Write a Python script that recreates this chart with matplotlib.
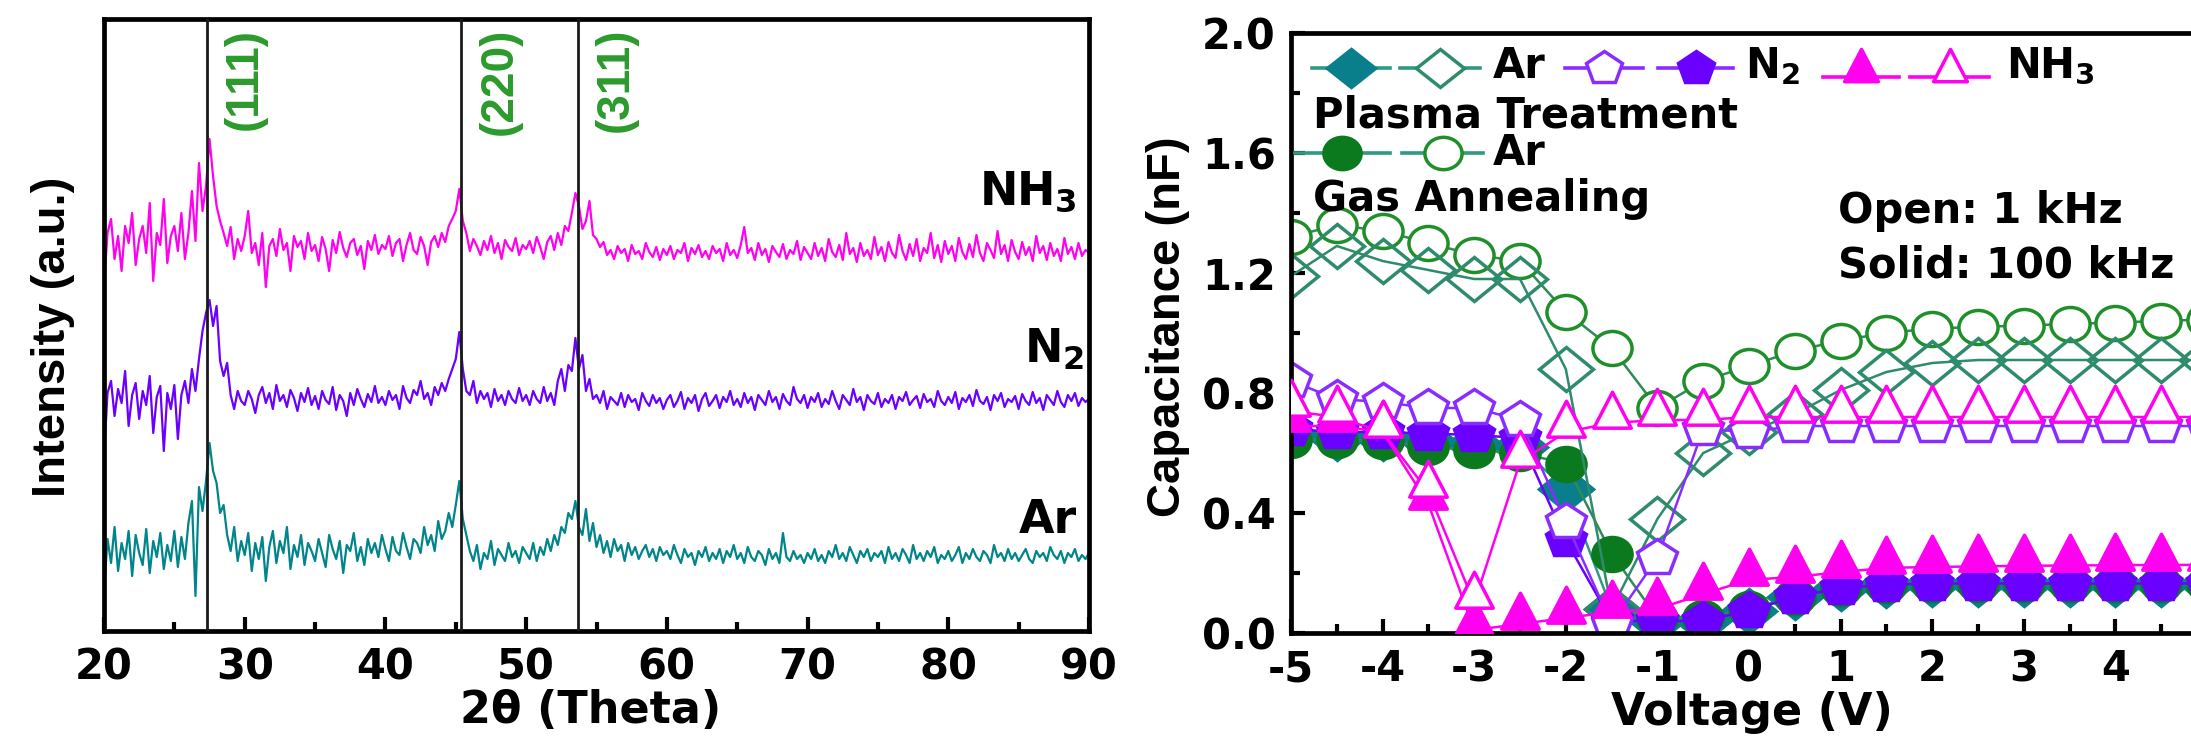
import numpy as np
import matplotlib
matplotlib.use('Agg')
import matplotlib.pyplot as plt
from matplotlib.markers import MarkerStyle
from matplotlib.path import Path
from matplotlib.transforms import Affine2D
from matplotlib.ticker import MultipleLocator, FormatStrFormatter, FixedLocator

plt.rcParams['font.family'] = ['DejaVu Sans']
plt.rcParams['font.weight'] = 'bold'
plt.rcParams['axes.labelweight'] = 'bold'
plt.rcParams['axes.unicode_minus'] = False
plt.rcParams['mathtext.fontset'] = 'dejavusans'
plt.rcParams['mathtext.default'] = 'bf'

# ---------------- XRD data (arbitrary units, stacked), 0.25 deg steps 20..90 ----------------
xrd_nh3 = (
    [345, 398, 412, 372, 395, 360, 405, 388, 418, 366, 392, 405, 378, 428, 350, 398, 386, 432, 368, 395] +
    [405, 380, 418, 372, 398, 440, 390, 468, 420, 445, 492, 455, 425, 410, 398, 385, 404, 372, 392, 380] +
    [395, 420, 378, 388, 366, 398, 344, 385, 392, 375, 402, 381, 388, 360, 395, 384, 390, 372, 398, 380] +
    [386, 370, 394, 382, 360, 391, 378, 399, 383, 374, 388, 392, 376, 385, 362, 390, 381, 396, 377, 386] +
    [382, 395, 375, 388, 392, 370, 386, 398, 381, 377, 394, 385, 366, 389, 395, 384, 398, 389, 405, 412] +
    [420, 442, 410, 398, 380, 392, 385, 376, 390, 381, 395, 378, 388, 372, 391, 384, 380, 393, 376, 386] +
    [382, 390, 378, 394, 384, 372, 389, 395, 381, 398, 386, 405, 400, 418, 438, 425, 402, 410, 430, 396] +
    [392, 384, 389, 376, 381, 372, 385, 378, 382, 370, 386, 377, 380, 372, 388, 379, 374, 384, 371, 382] +
    [376, 385, 372, 381, 378, 388, 370, 383, 377, 386, 374, 380, 372, 385, 378, 382, 370, 388, 376, 381] +
    [373, 386, 404, 378, 383, 371, 388, 376, 382, 369, 385, 379, 374, 387, 372, 381, 377, 390, 371, 384] +
    [378, 372, 388, 375, 383, 370, 392, 379, 374, 386, 371, 398, 377, 383, 369, 388, 375, 381, 372, 394] +
    [376, 384, 370, 389, 378, 373, 396, 380, 371, 387, 375, 392, 370, 383, 378, 398, 373, 386, 369, 390] +
    [377, 385, 370, 393, 379, 372, 387, 374, 396, 378, 370, 388, 381, 373, 400, 377, 386, 370, 391, 379] +
    [372, 389, 376, 384, 370, 395, 378, 385, 371, 388, 375, 382, 370, 393, 377, 384, 372, 388, 375, 381] +
    [378]
)
xrd_n2 = (
    [175, 238, 250, 215, 242, 228, 260, 205, 236, 248, 212, 240, 226, 255, 198, 234, 245, 180, 238, 222] +
    [246, 192, 236, 250, 228, 262, 240, 272, 300, 318, 331, 305, 325, 270, 255, 268, 236, 222, 240, 230] +
    [226, 240, 232, 218, 236, 244, 228, 238, 222, 246, 230, 236, 224, 241, 233, 220, 238, 229, 243, 226] +
    [235, 222, 240, 231, 227, 244, 221, 236, 230, 215, 238, 226, 242, 232, 224, 237, 229, 245, 228, 234] +
    [226, 240, 231, 236, 222, 245, 233, 228, 241, 236, 250, 232, 238, 226, 244, 236, 248, 240, 252, 262] +
    [272, 299, 262, 240, 236, 250, 228, 240, 232, 238, 224, 242, 230, 236, 226, 240, 232, 228, 243, 230] +
    [236, 226, 240, 232, 228, 244, 230, 238, 226, 250, 262, 240, 266, 260, 293, 262, 276, 240, 252, 232] +
    [236, 228, 240, 222, 234, 230, 226, 238, 224, 236, 229, 232, 221, 238, 230, 225, 236, 228, 233, 222] +
    [231, 236, 224, 230, 239, 222, 233, 228, 236, 220, 232, 238, 225, 230, 236, 223, 234, 229, 240, 226] +
    [232, 224, 238, 228, 234, 221, 236, 231, 226, 240, 229, 234, 222, 237, 230, 226, 244, 232, 228, 236] +
    [223, 234, 229, 238, 224, 232, 227, 240, 230, 222, 236, 231, 226, 242, 229, 234, 221, 236, 230, 227] +
    [238, 224, 232, 228, 236, 222, 234, 230, 239, 226, 231, 235, 223, 237, 229, 232, 224, 240, 230, 226] +
    [234, 228, 239, 222, 233, 229, 236, 225, 241, 230, 227, 234, 221, 236, 230, 238, 224, 232, 229, 235] +
    [222, 237, 230, 226, 239, 228, 233, 221, 236, 231, 226, 240, 229, 224, 236, 230, 238, 225, 233, 229] +
    [232]
)
xrd_ar = (
    [40, 92, 68, 104, 60, 88, 72, 100, 55, 96, 78, 66, 102, 58, 90, 74, 98, 62, 86, 70] +
    [100, 64, 94, 72, 108, 130, 35, 144, 120, 150, 188, 160, 148, 118, 126, 96, 80, 104, 70, 90] +
    [76, 98, 60, 88, 72, 94, 50, 84, 100, 68, 90, 78, 104, 62, 86, 74, 96, 66, 88, 80] +
    [70, 92, 78, 64, 96, 82, 72, 90, 58, 86, 80, 98, 70, 84, 66, 92, 78, 88, 74, 96] +
    [82, 70, 94, 80, 76, 98, 84, 72, 92, 88, 78, 104, 86, 96, 80, 110, 92, 100, 118, 104] +
    [126, 150, 112, 96, 80, 70, 86, 62, 78, 72, 90, 66, 82, 76, 70, 88, 74, 80, 68, 84] +
    [78, 72, 88, 70, 84, 76, 92, 80, 96, 86, 104, 98, 118, 112, 130, 104, 96, 122, 90, 108] +
    [84, 96, 78, 90, 74, 92, 80, 86, 70, 88, 76, 84, 72, 80, 86, 74, 82, 70, 84, 76] +
    [80, 72, 86, 76, 68, 82, 74, 78, 66, 80, 74, 84, 70, 78, 72, 82, 68, 80, 74, 86] +
    [72, 78, 68, 84, 74, 70, 80, 76, 66, 82, 72, 78, 68, 98, 74, 70, 80, 72, 76, 68] +
    [78, 72, 82, 70, 76, 68, 80, 74, 86, 72, 78, 70, 84, 76, 68, 80, 74, 82, 70, 78] +
    [74, 80, 68, 84, 72, 78, 70, 82, 76, 68, 86, 72, 78, 70, 80, 74, 84, 68, 76, 72] +
    [80, 70, 76, 84, 68, 78, 72, 82, 74, 70, 80, 76, 68, 86, 74, 78, 70, 82, 72, 78] +
    [70, 76, 82, 72, 68, 80, 74, 78, 70, 84, 76, 72, 80, 68, 78, 74, 82, 70, 76, 72] +
    [78]
)
peak_positions = [27.3, 45.4, 53.7]
peak_labels = ['(111)', '(220)', '(311)']
xrd_xticks = [20, 30, 40, 50, 60, 70, 80, 90]

# ---------------- C-V data ----------------
voltage = [-5.0, -4.5, -4.0, -3.5, -3.0, -2.5, -2.0, -1.5, -1.0, -0.5, 0.0,
           0.5, 1.0, 1.5, 2.0, 2.5, 3.0, 3.5, 4.0, 4.5, 5.0]
ar_plasma_100k = [0.66, 0.65, 0.65, 0.64, 0.63, 0.62, 0.48, 0.08, 0.04, 0.04, 0.075,
                  0.12, 0.15, 0.16, 0.165, 0.165, 0.165, 0.165, 0.165, 0.165, 0.165]
ar_plasma_1k = [1.19, 1.29, 1.24, 1.21, 1.18, 1.18, 0.88, 0.08, 0.38, 0.60, 0.67,
                0.73, 0.81, 0.87, 0.90, 0.91, 0.91, 0.91, 0.91, 0.91, 0.91]
ar_anneal_100k = [0.645, 0.645, 0.64, 0.62, 0.61, 0.60, 0.565, 0.265, 0.05, 0.05, 0.08,
                  0.12, 0.15, 0.16, 0.165, 0.165, 0.165, 0.165, 0.165, 0.165, 0.165]
ar_anneal_1k = [1.32, 1.36, 1.34, 1.30, 1.26, 1.24, 1.07, 0.95, 0.75, 0.84, 0.89,
                0.94, 0.975, 1.00, 1.015, 1.02, 1.025, 1.03, 1.035, 1.04, 1.045]
n2_1k = [0.84, 0.78, 0.77, 0.75, 0.75, 0.71, 0.37, 0.03, 0.25, 0.68, 0.67,
         0.69, 0.69, 0.69, 0.69, 0.69, 0.69, 0.69, 0.69, 0.69, 0.69]
n2_100k = [0.68, 0.67, 0.67, 0.665, 0.66, 0.65, 0.31, 0.04, 0.04, 0.04, 0.075,
           0.12, 0.15, 0.16, 0.165, 0.165, 0.165, 0.165, 0.165, 0.165, 0.165]
nh3_100k = [0.69, 0.69, 0.67, 0.43, 0.01, 0.03, 0.05, 0.07, 0.08, 0.13, 0.177,
            0.187, 0.203, 0.217, 0.22, 0.222, 0.224, 0.225, 0.226, 0.227, 0.227]
nh3_1k = [0.74, 0.72, 0.67, 0.47, 0.10, 0.57, 0.67, 0.70, 0.71, 0.71, 0.72,
          0.72, 0.72, 0.72, 0.72, 0.72, 0.72, 0.72, 0.72, 0.72, 0.72]
cv_xticks = [-5, -4, -3, -2, -1, 0, 1, 2, 3, 4]

# ---------------- styles ----------------
C_NH3 = '#ff00f0'
C_N2 = '#6a00ff'
C_N2_OPEN = '#8a2cff'
C_AR = '#00858a'
C_ARP_FILL = '#0a7f8c'
C_ARP_LINE = '#2e9a82'
C_ARP_OPEN = '#2e8b6b'
C_ARG_FILL = '#0b7a1e'
C_ARG_OPEN = '#1f8f2a'
C_ARG_LINE = '#2e8b57'
C_PEAKTXT = '#2c9a2c'

def stretched(m, sx):
    return MarkerStyle(m, transform=Affine2D().scale(sx, 1.0))

tri_path = Path([(0, 1.0), (-0.6, -0.15), (0.6, -0.15), (0, 1.0)],
                [Path.MOVETO, Path.LINETO, Path.LINETO, Path.CLOSEPOLY])
M_CIRC = stretched('o', 1.15)
M_DIAM = stretched('D', 1.25)
M_PENT = stretched('p', 1.12)
M_TRI = MarkerStyle(tri_path)
MS = {'c': 24.5, 'd': 22, 'p': 27, 't': 45}

fig = plt.figure(figsize=(21.91, 7.49), dpi=100)

# ================= left panel: XRD =================
ax1 = fig.add_axes([104 / 2191, 118 / 749, 985 / 2191, 612 / 749])
for data, col in ((xrd_ar, C_AR), (xrd_n2, C_N2), (xrd_nh3, C_NH3)):
    tt = np.linspace(20, 90, len(data))
    ax1.plot(tt, data, color=col, lw=1.6, zorder=2)
for p in peak_positions:
    ax1.axvline(p, color='#1a1a1a', lw=2.0, zorder=3)
for p, lab in zip(peak_positions, peak_labels):
    ax1.text(p + 2.7, 603, lab, rotation=90, ha='center', va='top', color=C_PEAKTXT,
             fontsize=33, family='Liberation Sans', weight='bold', zorder=4)
ax1.text(82.2, 426, r'NH$_3$', fontsize=33, ha='left', va='baseline')
ax1.text(85.4, 268, r'N$_2$', fontsize=33, ha='left', va='baseline')
ax1.text(85.0, 98, 'Ar', fontsize=33, ha='left', va='baseline')
ax1.set_xlim(20, 90)
ax1.set_ylim(0, 612)
ax1.set_xticks(xrd_xticks)
ax1.xaxis.set_minor_locator(MultipleLocator(5))
ax1.set_yticks([])
ax1.set_xlabel('2θ (Theta)', fontsize=32, weight='bold')
ax1.xaxis.set_label_coords(0.494, -0.095)
ax1.set_ylabel('Intensity (a.u.)', fontsize=34, family='Liberation Sans', weight='bold')
ax1.yaxis.set_label_coords(-0.029, 0.48)

# ================= right panel: C-V =================
ax2 = fig.add_axes([1291 / 2191, 116 / 749, 916 / 2191, 600 / 749])

def cv(yv, marker, ms, face, edge, line, z):
    ax2.plot(voltage, yv, color=line, lw=1.8, marker=marker, ms=ms, mfc=face,
             mec=edge, mew=2.5, zorder=z)

cv(ar_plasma_100k, M_DIAM, MS['d'], C_ARP_FILL, C_ARP_FILL, C_ARP_LINE, 1.9)
cv(ar_anneal_100k, M_CIRC, MS['c'], C_ARG_FILL, C_ARG_FILL, C_ARG_LINE, 2)
cv(ar_anneal_1k, M_CIRC, MS['c'], 'white', C_ARG_OPEN, C_ARG_LINE, 2.2)
cv(ar_plasma_1k, M_DIAM, MS['d'], 'none', C_ARP_OPEN, C_ARP_OPEN, 2.3)
cv(n2_100k, M_PENT, MS['p'], C_N2, C_N2, C_N2, 2.4)
cv(n2_1k, M_PENT, MS['p'], 'white', C_N2_OPEN, C_N2_OPEN, 2.5)
cv(nh3_100k, M_TRI, MS['t'], C_NH3, C_NH3, C_NH3, 2.6)
cv(nh3_1k, M_TRI, MS['t'], 'white', C_NH3, C_NH3, 2.7)

ax2.set_xlim(-5, 5)
ax2.set_ylim(0, 2.0)
ax2.xaxis.set_major_locator(FixedLocator(cv_xticks))
ax2.xaxis.set_minor_locator(MultipleLocator(0.5))
ax2.yaxis.set_major_locator(MultipleLocator(0.4))
ax2.yaxis.set_minor_locator(MultipleLocator(0.2))
ax2.yaxis.set_major_formatter(FormatStrFormatter('%.1f'))
ax2.set_xlabel('Voltage (V)', fontsize=32, weight='bold')
ax2.xaxis.set_label_coords(0.503, -0.097)
ax2.set_ylabel('Capacitance (nF)', fontsize=34, family='Liberation Sans', weight='bold')
ax2.yaxis.set_label_coords(-0.110, 0.51)

# manual legend
def sample(x0, x1, y, marker, ms, face, edge, line):
    xm = (x0 + x1) / 2
    ax2.plot([x0, xm, x1], [y, y, y], transform=ax2.transAxes, color=line, lw=2.6,
             marker=marker, markevery=[1], ms=ms, mfc=face, mec=edge, mew=2.5,
             clip_on=False, zorder=5)

yr1 = 0.942
sample(0.023, 0.108, yr1, M_DIAM, MS['d'] * 0.9, C_ARP_FILL, C_ARP_FILL, C_ARP_LINE)
sample(0.119, 0.206, yr1, M_DIAM, MS['d'] * 0.9, 'white', C_ARP_OPEN, C_ARP_LINE)
sample(0.299, 0.384, yr1, M_PENT, MS['p'] * 0.9, 'white', C_N2_OPEN, C_N2_OPEN)
sample(0.401, 0.483, yr1, M_PENT, MS['p'] * 0.9, C_N2, C_N2, C_N2_OPEN)
sample(0.581, 0.664, yr1 - 0.015, M_TRI, MS['t'] * 0.9, C_NH3, C_NH3, C_NH3)
sample(0.676, 0.762, yr1 - 0.015, M_TRI, MS['t'] * 0.9, 'white', C_NH3, C_NH3)
yr3 = 0.800
sample(0.004, 0.108, yr3, M_CIRC, MS['c'] * 0.95, C_ARG_FILL, C_ARG_FILL, C_ARP_LINE)
sample(0.121, 0.210, yr3, M_CIRC, MS['c'] * 0.95, 'white', C_ARG_OPEN, C_ARP_LINE)

tk = dict(transform=ax2.transAxes, fontsize=30, ha='left', va='baseline', zorder=6)
ax2.text(0.2205, 0.925, 'Ar', **tk)
ax2.text(0.4956, 0.925, r'N$_2$', **tk)
ax2.text(0.7806, 0.925, r'NH$_3$', **tk)
ax2.text(0.024, 0.843, 'Plasma Treatment', **tk)
ax2.text(0.2205, 0.780, 'Ar', **tk)
ax2.text(0.024, 0.703, 'Gas Annealing', **tk)
ax2.text(0.597, 0.683, 'Open: 1 kHz', **tk)
ax2.text(0.597, 0.592, 'Solid: 100 kHz', **tk)

for ax in (ax1, ax2):
    for s in ax.spines.values():
        s.set_linewidth(3.4)
    ax.tick_params(which='both', direction='in', width=3, top=False, right=False)
    ax.tick_params(which='major', length=10, labelsize=30, pad=11)
    ax.tick_params(which='minor', length=6.5)
    for lab in ax.get_xticklabels() + ax.get_yticklabels():
        lab.set_fontweight('bold')

fig.savefig('out.png', dpi=100)
